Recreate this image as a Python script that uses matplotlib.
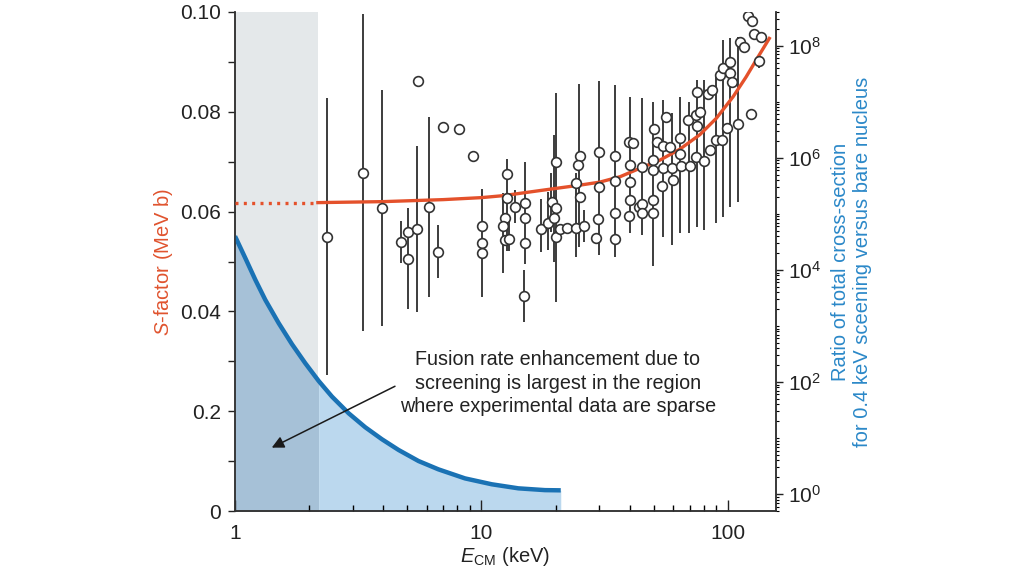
import numpy as np
import matplotlib
matplotlib.use("Agg")
import matplotlib.pyplot as plt
from matplotlib.ticker import FixedLocator, LogLocator, NullFormatter

plt.rcParams["font.family"] = ["Liberation Sans", "DejaVu Sans"]
plt.rcParams["mathtext.fontset"] = "custom"
plt.rcParams["mathtext.rm"] = "Liberation Sans"
plt.rcParams["mathtext.it"] = "Liberation Sans:italic"

# measured S-factor points (E in keV, S in MeV b)
pt_e = [2.37, 3.32, 3.94, 4.72, 5.06, 5.06, 5.47, 5.54, 6.14, 6.68, 6.96, 8.13, 9.28,
        10.05, 10.05, 10.05, 12.65, 12.65, 12.45, 12.26, 12.45, 12.93, 13.68,
        15.06, 15.06, 15.06, 14.84, 17.39, 18.56, 19.38, 20.06, 19.74, 20.06, 20.06,
        20.82, 22.29, 24.11, 26.12, 25.09, 24.70, 24.11, 25.09,
        30.06, 30.06, 29.83, 29.06, 35.03, 35.03, 34.80, 34.80,
        39.79, 41.07, 40.05, 40.05, 40.05, 39.79, 43.68, 44.67, 44.67, 44.67,
        50.23, 49.77, 49.77, 49.77, 49.77, 51.85, 56.04, 54.64, 58.18, 54.64, 54.13,
        59.55, 60.0, 63.9, 63.9, 64.9, 70.1, 69.3, 74.2, 77.0, 75.1, 75.1, 74.6,
        79.9, 84.5, 83.5, 86.1, 89.4, 95.2, 92.8, 95.7, 101.9, 102.6, 104.5, 99.4,
        110.1, 124.0, 112.6, 116.1, 121.3, 125.1, 127.9, 136.1, 134.0]
pt_s = [0.0550, 0.0678, 0.0607, 0.0539, 0.0560, 0.0505, 0.0565, 0.0862, 0.0610, 0.0520,
        0.0770, 0.0765, 0.0712,
        0.0572, 0.0538, 0.0518, 0.0675, 0.0627, 0.0588, 0.0571, 0.0543, 0.0546, 0.0609,
        0.0618, 0.0587, 0.0538, 0.0430, 0.0565, 0.0578, 0.0620, 0.0607, 0.0587, 0.0550, 0.0700,
        0.0566, 0.0568, 0.0568, 0.0571, 0.0712, 0.0693, 0.0657, 0.0629,
        0.0719, 0.0649, 0.0586, 0.0548, 0.0711, 0.0661, 0.0598, 0.0545,
        0.0740, 0.0737, 0.0693, 0.0659, 0.0623, 0.0592, 0.0610, 0.0615, 0.0598, 0.0690,
        0.0765, 0.0703, 0.0683, 0.0623, 0.0597, 0.0740, 0.0789, 0.0731, 0.0729, 0.0688, 0.0651,
        0.0688, 0.0663, 0.0748, 0.0715, 0.0692, 0.0692, 0.0784, 0.0794, 0.0800, 0.0839, 0.0772, 0.0709,
        0.0702, 0.0723, 0.0835, 0.0844, 0.0743, 0.0743, 0.0874, 0.0887, 0.0900, 0.0878, 0.0860, 0.0767,
        0.0775, 0.0795, 0.0939, 0.0930, 0.0991, 0.0981, 0.0955, 0.0949, 0.0902]

# error bars (E, lower S, upper S)
bar_e = [2.37, 3.32, 3.94, 4.72, 5.06, 5.47, 6.14, 6.68, 10.05, 12.7, 12.26, 12.93, 13.68,
         15.06, 14.84, 17.39, 18.56, 19.2, 19.74, 20.06, 24.11, 24.9, 26.12, 30.06, 34.9,
         40.05, 44.67, 49.77, 54.64, 59.6, 64.2, 69.7, 75.1, 79.9, 89.4, 95.7, 102.6, 110.1, 134.0]
bar_lo = [0.0273, 0.0361, 0.0371, 0.0498, 0.0404, 0.0398, 0.0429, 0.0466, 0.0429, 0.0521, 0.0476,
          0.0521, 0.0577, 0.0496, 0.0379, 0.0520, 0.0523, 0.0560, 0.0500, 0.0419, 0.0510, 0.0530,
          0.0540, 0.0513, 0.0510, 0.0557, 0.0553, 0.0490, 0.0550, 0.0533, 0.0557, 0.0557, 0.0570,
          0.0563, 0.0577, 0.0590, 0.0610, 0.0620, 0.0888]
bar_hi = [0.0827, 0.0996, 0.0844, 0.0582, 0.0607, 0.0731, 0.0790, 0.0573, 0.0645, 0.0705, 0.0637,
          0.0580, 0.0643, 0.0700, 0.0482, 0.0625, 0.0639, 0.0677, 0.0754, 0.0838, 0.0677, 0.0856,
          0.0603, 0.0862, 0.0854, 0.0830, 0.0827, 0.0820, 0.0824, 0.0798, 0.0830, 0.0820, 0.0864,
          0.0864, 0.0874, 0.0944, 0.0948, 0.0950, 0.0914]

# S-factor fit (dotted below the sparse-data edge)
fit_e = [1.0, 2.17, 4.0, 7.0, 10.0, 12.3, 17.8, 25.1, 30.2, 36.6, 44.1, 53.0, 63.9, 77.0,
         89.9, 105.1, 118.8, 134.3, 147.5]
fit_s = [0.0618, 0.0618, 0.0620, 0.0624, 0.0628, 0.0632, 0.0643, 0.0653, 0.0659, 0.0670,
         0.0687, 0.0703, 0.0725, 0.0754, 0.0787, 0.0830, 0.0870, 0.0914, 0.0947]

# screening enhancement ratio
ratio_e = [1.0, 1.101, 1.209, 1.327, 1.504, 1.703, 1.928, 2.185, 2.475, 2.893, 3.379,
           3.949, 4.613, 5.557, 6.694, 8.584, 11.02, 14.13, 18.12, 21.0]
ratio = [40000, 16290, 6683, 2931, 1125, 474, 217, 104.7, 55.0, 27.7, 15.6,
         9.53, 6.14, 3.90, 2.77, 1.91, 1.50, 1.27, 1.18, 1.17]

sparse_edge = 2.17

fig = plt.figure(figsize=(10.24, 5.76), dpi=100)
ax = fig.add_axes([0.2295, 0.1128, 0.5283, 0.8664])
ax2 = ax.twinx()
ax.set_zorder(ax2.get_zorder() + 1)
ax.patch.set_visible(False)

# right axis: shading and ratio curve
ax2.set_yscale("log")
ax2.set_ylim(0.5, 4.0e8)
ax2.axvspan(1, sparse_edge, color="#e4e8ea", lw=0, zorder=0)
re = np.array(ratio_e)
rr = np.array(ratio)
ax2.fill_between(re, 1e-3, rr, where=re <= sparse_edge + 0.1, color="#a6c1d7", lw=0, zorder=1)
ax2.fill_between(re, 1e-3, rr, where=re >= sparse_edge, color="#bbd8ee", lw=0, zorder=1)
ax2.plot(ratio_e, ratio, color="#1a72b4", lw=3.2, zorder=3, solid_capstyle="butt")

# left axis: S-factor data
ax.plot(fit_e[:2], fit_s[:2], color="#e4512b", lw=2.4, ls=(0, (0.9, 1.6)), zorder=4)
ax.plot(fit_e[1:], fit_s[1:], color="#e4512b", lw=2.4, zorder=4)
ax.vlines(bar_e, bar_lo, bar_hi, color="#3c3c3c", lw=1.4, zorder=3)
ax.plot(pt_e, pt_s, "o", mfc="white", mec="#333333", ms=7, mew=1.2, zorder=5)

ax.set_xscale("log")
ax.set_xlim(1, 157)
ax.set_ylim(0, 0.10)

ax.text(20.4, 0.0256, "Fusion rate enhancement due to\nscreening is largest in the region\nwhere experimental data are sparse",
        ha="center", va="center", multialignment="center", fontsize=14.2, color="#222222",
        linespacing=1.3, zorder=6)
ax.annotate("", xy=(1.41, 0.0127), xytext=(4.46, 0.0250),
            arrowprops=dict(arrowstyle="-|>", color="#1a1a1a", lw=1.1, mutation_scale=18,
                            shrinkA=0, shrinkB=0), zorder=6)

# ticks
ax.set_yticks([0, 0.02, 0.04, 0.06, 0.08, 0.10])
ax.set_yticklabels(["0", "0.2", "0.04", "0.06", "0.08", "0.10"])
ax.yaxis.set_minor_locator(FixedLocator([0.01, 0.03, 0.05, 0.07, 0.09]))
ax.tick_params(axis="y", which="both", direction="out", length=5, width=1, labelsize=15,
               colors="#222222", pad=5)
ax.set_xticks([1, 10, 100])
ax.set_xticklabels(["1", "10", "100"])
ax.xaxis.set_minor_locator(LogLocator(base=10, subs=np.arange(2, 10), numticks=20))
ax.xaxis.set_minor_formatter(NullFormatter())
ax.tick_params(axis="x", which="major", direction="in", length=8, width=1, labelsize=15,
               colors="#222222", pad=9)
ax.tick_params(axis="x", which="minor", direction="in", length=4.5, width=1)

ax2.set_yticks([1, 1e2, 1e4, 1e6, 1e8])
ax2.set_yticklabels([r"$10^0$", r"$10^2$", r"$10^4$", r"$10^6$", r"$10^8$"])
ax2.yaxis.set_minor_locator(LogLocator(base=10, subs=np.arange(1, 10), numticks=40))
ax2.yaxis.set_minor_formatter(NullFormatter())
ax2.tick_params(axis="y", which="major", direction="out", length=5, width=1, labelsize=15,
                colors="#222222", pad=4)
ax2.tick_params(axis="y", which="minor", direction="out", length=2.5, width=0.8)

for a in (ax, ax2):
    a.spines["top"].set_visible(False)
    for s in ("left", "right", "bottom"):
        a.spines[s].set_linewidth(1.1)
        a.spines[s].set_color("#333333")

ax.set_xlabel(r"$E_{\rm CM}$ (keV)", fontsize=14.5, color="#222222", labelpad=2)
ax.set_ylabel(r"$S$-factor (MeV b)", fontsize=14.5, color="#e0532e", labelpad=4)
ax2.set_ylabel("Ratio of total cross-section\nfor 0.4 keV sceening versus bare nucleus",
               fontsize=14.5, color="#2b88c8", labelpad=7, linespacing=1.2)

fig.savefig("out.png", dpi=100)
